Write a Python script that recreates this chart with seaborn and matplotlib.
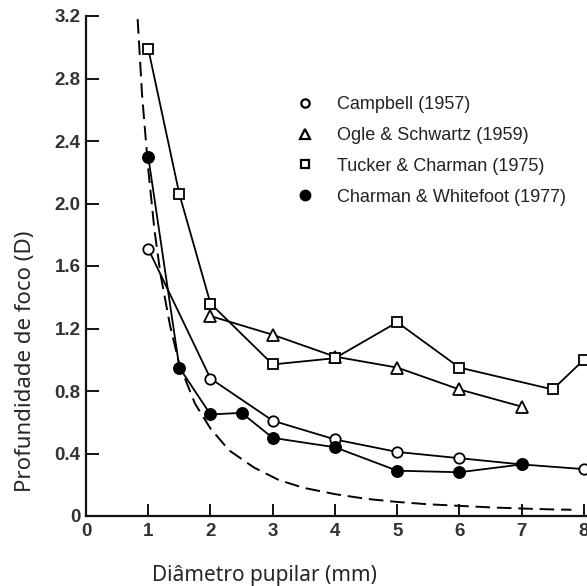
import matplotlib
matplotlib.use("Agg")
import matplotlib.pyplot as plt
from matplotlib.lines import Line2D
import seaborn as sns
import pandas as pd

# ---- data ----
campbell_x = [1, 2, 3, 4, 5, 6, 7, 8]
campbell_y = [1.71, 0.88, 0.61, 0.49, 0.41, 0.37, 0.33, 0.30]

ogle_x = [2, 3, 4, 5, 6, 7]
ogle_y = [1.28, 1.16, 1.02, 0.95, 0.81, 0.70]

tucker_x = [1, 1.5, 2, 3, 4, 5, 6, 7.5, 8]
tucker_y = [2.99, 2.06, 1.36, 0.97, 1.01, 1.24, 0.95, 0.81, 1.00]

charman_x = [1, 1.5, 2, 2.5, 3, 4, 5, 6, 7]
charman_y = [2.30, 0.95, 0.65, 0.66, 0.50, 0.44, 0.29, 0.28, 0.33]

theory_x = [0.83, 0.9, 1.0, 1.1, 1.2, 1.35, 1.5, 1.75, 2.0, 2.3, 2.7, 3.1, 3.5,
            4.0, 4.5, 5.0, 5.5, 6.0, 6.5, 7.0, 7.5, 7.8]
theory_y = [3.18, 2.70, 2.22, 1.83, 1.54, 1.22, 0.97, 0.72, 0.56, 0.42, 0.31,
            0.23, 0.18, 0.14, 0.11, 0.09, 0.075, 0.065, 0.055, 0.048, 0.042, 0.04]

labels = ["Campbell (1957)", "Ogle & Schwartz (1959)",
          "Tucker & Charman (1975)", "Charman & Whitefoot (1977)"]

x_ticks = [0, 1, 2, 3, 4, 5, 6, 7, 8]
y_ticks = [0, 0.4, 0.8, 1.2, 1.6, 2.0, 2.4, 2.8, 3.2]
y_ticklabels = ["0", "0.4", "0.8", "1.2", "1.6", "2.0", "2.4", "2.8", "3.2"]

# ---- style ----
sns.set_style("ticks")
plt.rcParams["font.family"] = ["Liberation Sans", "DejaVu Sans"]

fig = plt.figure(figsize=(5.87, 5.86), dpi=100)
ax = fig.add_axes([86 / 587, 70 / 586, 501 / 587, 500 / 586])

line_kw = dict(color="black", linewidth=1.3, markeredgewidth=1.3,
               markeredgecolor="black", legend=False, sort=False, ax=ax)

sns.lineplot(x=theory_x, y=theory_y, color="black", linewidth=1.4,
             dashes=False, linestyle=(0, (7.5, 3.5)), legend=False, sort=False, ax=ax)

series = [
    (campbell_x, campbell_y, "o", "white", 7.5),
    (ogle_x, ogle_y, "^", "white", 8.5),
    (tucker_x, tucker_y, "s", "white", 7.5),
    (charman_x, charman_y, "o", "black", 8),
]
for xs, ys, mk, fc, ms in series:
    df = pd.DataFrame({"x": xs, "y": ys})
    sns.lineplot(data=df, x="x", y="y", marker=mk, markerfacecolor=fc,
                 markersize=ms, **line_kw)

ax.set_xlim(0, 8.05)
ax.set_ylim(0, 3.2)
ax.set_xticks(x_ticks)
ax.set_xticklabels([str(v) for v in x_ticks])
ax.set_yticks(y_ticks)
ax.set_yticklabels(y_ticklabels)

for side in ["top", "right"]:
    ax.spines[side].set_visible(False)
for side in ["left", "bottom"]:
    ax.spines[side].set_linewidth(1.6)
    ax.spines[side].set_color("#111111")

ax.tick_params(axis="both", direction="in", length=9, width=1.4,
               color="#111111", labelsize=13.5, labelcolor="#333333")
ax.tick_params(axis="x", pad=5)
ax.tick_params(axis="y", pad=4)
for t in ax.get_xticklabels() + ax.get_yticklabels():
    t.set_fontweight("bold")
ax.xaxis.get_major_ticks()[0].tick1line.set_visible(False)

ax.set_xlabel("Diâmetro pupilar (mm)", fontsize=15, family=["Noto Sans", "DejaVu Sans"])
ax.set_ylabel("Profundidade de foco (D)", fontsize=16, family=["Noto Sans", "DejaVu Sans"])
ax.xaxis.set_label_coords(0.357, -0.098)
ax.yaxis.set_label_coords(-0.10, 0.31)

handles = [
    Line2D([], [], linestyle="none", marker="o", markersize=6, markerfacecolor="white",
           markeredgecolor="black", markeredgewidth=1.6),
    Line2D([], [], linestyle="none", marker="^", markersize=6.5, markerfacecolor="white",
           markeredgecolor="black", markeredgewidth=1.6),
    Line2D([], [], linestyle="none", marker="s", markersize=6, markerfacecolor="white",
           markeredgecolor="black", markeredgewidth=1.6),
    Line2D([], [], linestyle="none", marker="o", markersize=7.5, markerfacecolor="black",
           markeredgecolor="black"),
]
leg = ax.legend(handles, labels, loc="upper left", bbox_to_anchor=(0.419, 0.840),
                frameon=False, borderaxespad=0, borderpad=0, handlelength=1.0,
                handletextpad=1.28, labelspacing=0.77, fontsize=13)
for t in leg.get_texts():
    t.set_color("#222222")

fig.savefig("out.png", dpi=100)
